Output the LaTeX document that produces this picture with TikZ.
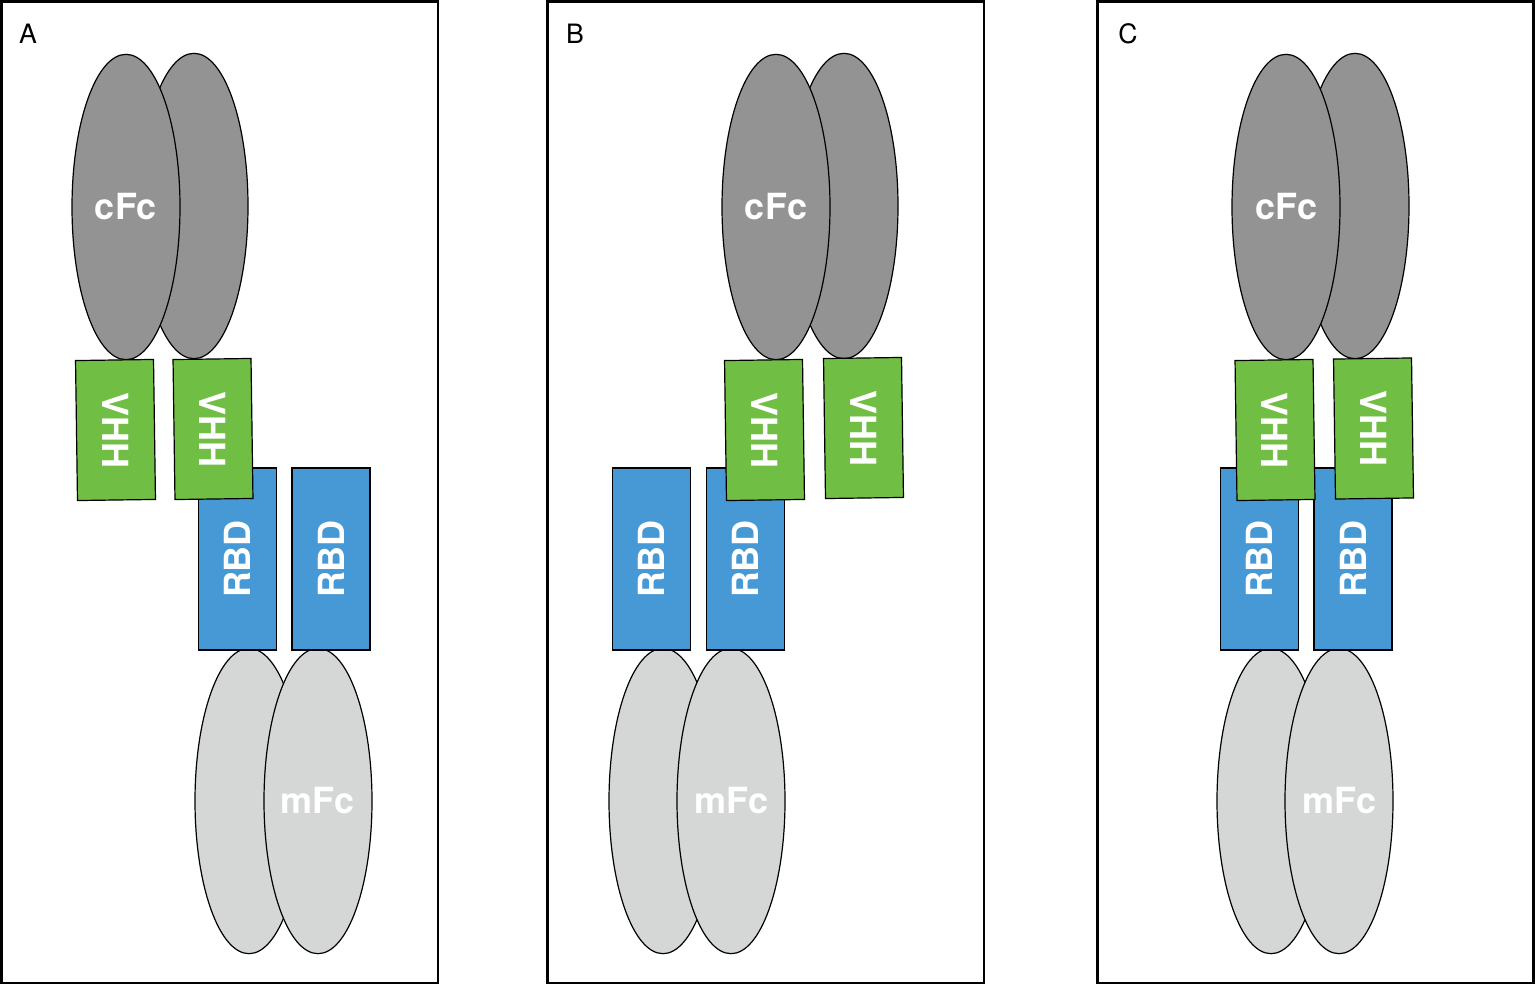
\documentclass[tikz,border=0pt]{standalone}
\usepackage{fontspec}
\setmainfont{TeX Gyre Heros}
\usetikzlibrary{shapes.geometric}

\definecolor{cfcgrey}{RGB}{147,147,147}
\definecolor{mfcgrey}{RGB}{213,214,214}
\definecolor{vhhgreen}{RGB}{112,191,68}
\definecolor{rbdblue}{RGB}{70,153,212}

\tikzset{
  lobe/.style={ellipse, draw=black, line width=0.9pt, inner sep=0pt,
    minimum width=81pt, minimum height=229pt},
  cfc/.style={lobe, fill=cfcgrey},
  mfc/.style={lobe, fill=mfcgrey},
  block/.style={rectangle, draw=black, line width=0.9pt, inner sep=0pt,
    minimum width=58.5pt},
  vhh/.style={block, fill=vhhgreen, minimum height=105pt, rotate=0.8},
  rbd/.style={block, fill=rbdblue, minimum height=136.5pt},
  txt/.style={text=white, font=\fontsize{27}{30}\selectfont\bfseries},
  tag/.style={font=\fontsize{20}{24}\selectfont},
  panel/.style={draw=black, line width=1.8pt}
}

\begin{document}
\begin{tikzpicture}[x=0.75pt,y=0.75pt,yscale=-1]
\useasboundingbox (0,0) rectangle (1535,985);

% Panel A
\draw[panel] (1.5,1.5) rectangle (438,983);
\node[tag] (tagA) at (28,34) {A};
\node[cfc] (cfcAback) at (194,206) {};
\node[cfc] (cfcA) at (126,207) {};
\node[txt] at (cfcA) {cFc};
\node[mfc] (mfcAback) at (249,801) {};
\node[mfc] (mfcA) at (318,801) {};
\node[txt] at (mfcA) {mFc};
\node[rbd] (rbdA1) at (237.5,559) {};
\node[rbd] (rbdA2) at (331,559) {};
\node[txt, rotate=90] at (rbdA1) {RBD};
\node[txt, rotate=90] at (rbdA2) {RBD};
\node[vhh] (vhhA1) at (115.5,430) {};
\node[vhh] (vhhA2) at (213,429) {};
\node[txt, rotate=-90] at (vhhA1) {VHH};
\node[txt, rotate=-90] at (vhhA2) {VHH};

% Panel B
\draw[panel] (547.5,1.5) rectangle (984,983);
\node[tag] (tagB) at (575,34) {B};
\node[cfc] (cfcBback) at (844,206) {};
\node[cfc] (cfcB) at (776,207) {};
\node[txt] at (cfcB) {cFc};
\node[mfc] (mfcBback) at (663,801) {};
\node[mfc] (mfcB) at (731,801) {};
\node[txt] at (mfcB) {mFc};
\node[rbd] (rbdB1) at (651.5,559) {};
\node[rbd] (rbdB2) at (745.5,559) {};
\node[txt, rotate=90] at (rbdB1) {RBD};
\node[txt, rotate=90] at (rbdB2) {RBD};
\node[vhh] (vhhB1) at (764.5,430) {};
\node[vhh] (vhhB2) at (863.5,428) {};
\node[txt, rotate=-90] at (vhhB1) {VHH};
\node[txt, rotate=-90] at (vhhB2) {VHH};

% Panel C
\draw[panel] (1097.5,1.5) rectangle (1533.5,983);
\node[tag] (tagC) at (1128,34) {C};
\node[cfc] (cfcCback) at (1355,206) {};
\node[cfc] (cfcC) at (1286,207) {};
\node[txt] at (cfcC) {cFc};
\node[mfc] (mfcCback) at (1271,801) {};
\node[mfc] (mfcC) at (1339,801) {};
\node[txt] at (mfcC) {mFc};
\node[rbd] (rbdC1) at (1259.5,559) {};
\node[rbd] (rbdC2) at (1353,559) {};
\node[txt, rotate=90] at (rbdC1) {RBD};
\node[txt, rotate=90] at (rbdC2) {RBD};
\node[vhh] (vhhC1) at (1275,430) {};
\node[vhh] (vhhC2) at (1373.5,428.5) {};
\node[txt, rotate=-90] at (vhhC1) {VHH};
\node[txt, rotate=-90] at (vhhC2) {VHH};

\end{tikzpicture}
\end{document}
